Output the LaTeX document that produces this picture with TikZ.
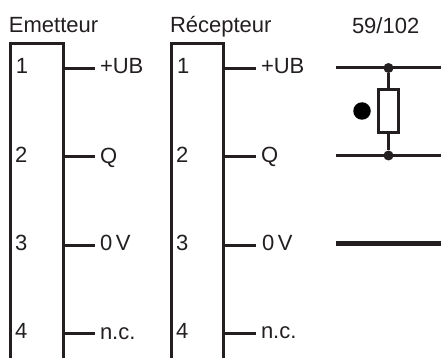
\documentclass[tikz,border=0pt]{standalone}
\usepackage{fontspec}
\setmainfont{Liberation Sans}
\usetikzlibrary{positioning}
\definecolor{inkdark}{HTML}{231F20}
\tikzset{
    boxline/.style={line width=3pt,draw=inkdark,line cap=butt,line join=miter},
    wire/.style={line width=3pt,draw=inkdark},
    txt/.style={anchor=base west,inner sep=0pt,outer sep=0pt,text=inkdark,font=\fontsize{22}{24}\selectfont},
    junction/.style={circle,fill=inkdark,inner sep=0pt,minimum size=10pt},
    resistor/.style={draw=inkdark,line width=3pt,fill=white,inner sep=0pt,minimum width=20pt,minimum height=43pt}
}
\begin{document}
\begin{tikzpicture}[x=1pt,y=-1pt,on grid]
        \useasboundingbox (0,0) rectangle (441,358);
        % emetteur
        \coordinate (a_tl) at (10.5,44);
        \coordinate[right=52.5pt of a_tl] (a_tr);
        \coordinate[below=314pt of a_tl] (a_bl);
        \coordinate[below=314pt of a_tr] (a_br);
        \node[txt] (a_title) at (9,32.5) {Emetteur};
        \draw[boxline] (a_bl) -- (a_tl) -- (a_tr) -- (a_br);
        \coordinate[below=25pt of a_tr] (a_1);
        \coordinate[below=88pt of a_1] (a_2);
        \coordinate[below=88pt of a_2] (a_3);
        \coordinate[below=88pt of a_3] (a_4);
        \coordinate[right=32pt of a_1] (a_1e);
        \coordinate[right=32pt of a_2] (a_2e);
        \coordinate[right=32pt of a_3] (a_3e);
        \coordinate[right=32pt of a_4] (a_4e);
        \node[txt] (a_pin1) at (16,73.5) {1};
        \node[txt] (a_pin2) at (15,162.5) {2};
        \node[txt] (a_pin3) at (15,250.5) {3};
        \node[txt] (a_pin4) at (15,338.5) {4};
        \node[txt] (a_ub) at (100,73.5) {+UB};
        \node[txt] (a_q) at (100,163.5) {Q};
        \node[txt] (a_v) at (100,250.5) {0\,V};
        \node[txt] (a_nc) at (100,339.5) {n.c.};
        \path[wire]
            (a_1) edge (a_1e)
            (a_2) edge (a_2e)
            (a_3) edge (a_3e)
            (a_4) edge (a_4e);
        % recepteur
        \coordinate[right=160.5pt of a_tl] (b_tl);
        \coordinate[right=52.5pt of b_tl] (b_tr);
        \coordinate[below=314pt of b_tl] (b_bl);
        \coordinate[below=314pt of b_tr] (b_br);
        \node[txt] (b_title) at (170,32.5) {Récepteur};
        \draw[boxline] (b_bl) -- (b_tl) -- (b_tr) -- (b_br);
        \coordinate[below=25pt of b_tr] (b_1);
        \coordinate[below=88pt of b_1] (b_2);
        \coordinate[below=88pt of b_2] (b_3);
        \coordinate[below=88pt of b_3] (b_4);
        \coordinate[right=32pt of b_1] (b_1e);
        \coordinate[right=32pt of b_2] (b_2e);
        \coordinate[right=32pt of b_3] (b_3e);
        \coordinate[right=32pt of b_4] (b_4e);
        \node[txt] (b_pin1) at (177,73.5) {1};
        \node[txt] (b_pin2) at (176,162.5) {2};
        \node[txt] (b_pin3) at (176,250.5) {3};
        \node[txt] (b_pin4) at (176,338.5) {4};
        \node[txt] (b_ub) at (261,73.5) {+UB};
        \node[txt] (b_q) at (261,162.5) {Q};
        \node[txt] (b_v) at (262,250.5) {0\,V};
        \node[txt] (b_nc) at (261,338.5) {n.c.};
        \path[wire]
            (b_1) edge (b_1e)
            (b_2) edge (b_2e)
            (b_3) edge (b_3e)
            (b_4) edge (b_4e);
        % 59/102
        \node[txt] (c_title) at (352,33.5) {59/102};
        \coordinate (c_1l) at (336,68);
        \coordinate[right=105pt of c_1l] (c_1r);
        \coordinate[below=87.5pt of c_1l] (c_2l);
        \coordinate[right=105pt of c_2l] (c_2r);
        \coordinate[below=88pt of c_2l] (c_3l);
        \coordinate[right=105pt of c_3l] (c_3r);
        \node[junction] (c_top) [right=52.5pt of c_1l,anchor=center] {};
        \node[junction] (c_bot) [right=52.5pt of c_2l,anchor=center] {};
        \node[resistor] (c_res) [below=43pt of c_top,anchor=center] {};
        \node[circle,fill=black,inner sep=0pt,minimum size=17.5pt] (c_dot) [left=26.5pt of c_res,anchor=center] {};
        \path[wire]
            (c_1l) edge (c_1r)
            (c_2l) edge (c_2r)
            (c_top) edge (c_res)
            (c_res) edge (c_bot);
        \path[wire,line width=4.5pt]
            (c_3l) edge (c_3r);
    \end{tikzpicture}
\end{document}
